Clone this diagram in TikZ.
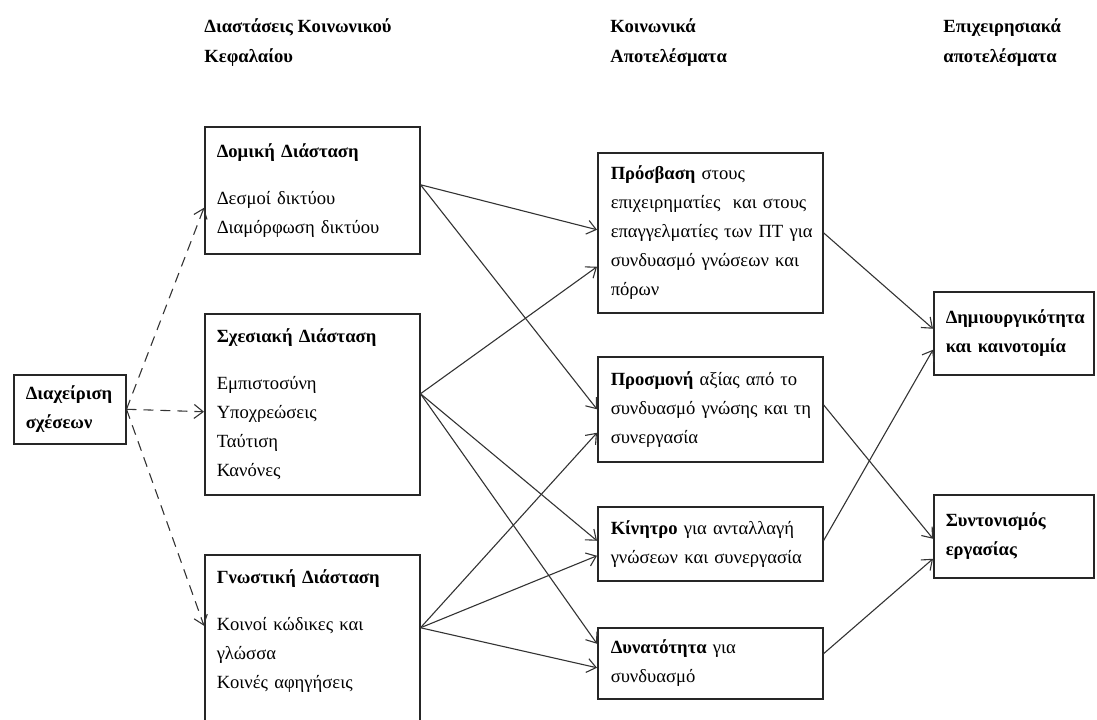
\documentclass[tikz,border=0pt]{standalone}
\usepackage{fontspec}
\setmainfont{Liberation Serif}
\usetikzlibrary{arrows.meta}

\tikzset{
  kouti/.style={draw=black!85, line width=0.75pt, anchor=north west, align=left,
    inner xsep=6pt, inner ysep=0pt, font=\fontsize{9.3}{14.5}\selectfont},
  titlos/.style={anchor=west, align=left, inner sep=0pt,
    font=\bfseries\fontsize{9.3}{15}\selectfont},
  velos/.style={-{Straight Barb[length=4.5pt,width=7pt]}, line width=0.55pt, black!80},
  diakek/.style={velos, dash pattern=on 5pt off 3.5pt},
}

\begin{document}
\begin{tikzpicture}[x=0.5pt,y=-0.5pt]
    \useasboundingbox (0,0) rectangle (1097,719);
    \node[titlos] (h1) at (204,43) {Διαστάσεις Κοινωνικού\\Κεφαλαίου};
    \node[titlos] (h2) at (610,43) {Κοινωνικά\\Αποτελέσματα};
    \node[titlos] (h3) at (943,43) {Επιχειρησιακά\\αποτελέσματα};

    \node[kouti, text width=44pt, minimum height=34.5pt] (dx) at (13,374)
        {\textbf{Διαχείριση}\\\textbf{σχέσεων}};

    \node[kouti, text width=95.5pt, minimum height=63.5pt] (dom) at (204,126)
        {\textbf{Δομική Διάσταση}\\[9pt]Δεσμοί δικτύου\\Διαμόρφωση δικτύου};
    \node[kouti, text width=95.5pt, minimum height=90.5pt] (sxe) at (204,313)
        {\textbf{Σχεσιακή Διάσταση}\\[9pt]Εμπιστοσύνη\\Υποχρεώσεις\\Ταύτιση\\Κανόνες};
    \node[kouti, text width=95.5pt, minimum height=88.5pt] (gno) at (204,554)
        {\textbf{Γνωστική Διάσταση}\\[9pt]Κοινοί κώδικες και\\γλώσσα\\Κοινές αφηγήσεις\\\mbox{}};

    \node[kouti, inner xsep=6.5pt, text width=99.5pt, minimum height=80pt] (pro) at (597,152)
        {\textbf{Πρόσβαση} στους\\\mbox{επιχειρηματίες\ \ και στους}\\\mbox{επαγγελματίες των ΠΤ για}\\\mbox{συνδυασμό γνώσεων και}\\πόρων};
    \node[kouti, inner xsep=6.5pt, text width=99.5pt, minimum height=52.5pt] (prm) at (597,356)
        {\mbox{\textbf{Προσμονή} αξίας από το}\\\mbox{συνδυασμό γνώσης και\ τη}\\συνεργασία};
    \node[kouti, inner xsep=6.5pt, text width=99.5pt, minimum height=37pt] (kin) at (597,506)
        {\mbox{\textbf{Κίνητρο} για ανταλλαγή}\\\mbox{γνώσεων και συνεργασία}};
    \node[kouti, inner xsep=6.5pt, text width=99.5pt, minimum height=35.5pt] (dyn) at (597,627)
        {\textbf{Δυνατότητα} για\\συνδυασμό};

    \node[kouti, text width=68pt, minimum height=41.5pt] (dim) at (933,291)
        {\textbf{Δημιουργικότητα}\\\textbf{και καινοτομία}};
    \node[kouti, text width=68pt, minimum height=41.5pt] (syn) at (933,494)
        {\textbf{Συντονισμός}\\\textbf{εργασίας}};

    \draw[diakek] (dx.east) -- ([yshift=-8.75pt]dom.west);
    \draw[diakek] (dx.east) -- ([yshift=-3.75pt]sxe.west);
    \draw[diakek] (dx.east) -- ([yshift=8.75pt]gno.west);

    \draw[velos] ([yshift=2.75pt]dom.east) -- ([yshift=1.5pt]pro.west);
    \draw[velos] ([yshift=2.75pt]dom.east) -- (prm.west);
    \draw[velos] ([yshift=5.25pt]sxe.east) -- ([yshift=-17pt]pro.west);
    \draw[velos] ([yshift=5.25pt]sxe.east) -- ([yshift=1.5pt]kin.west);
    \draw[velos] ([yshift=5.25pt]sxe.east) -- ([yshift=9.75pt]dyn.west);
    \draw[velos] ([yshift=7.75pt]gno.east) -- ([yshift=-11.75pt]prm.west);
    \draw[velos] ([yshift=7.75pt]gno.east) -- ([yshift=-6pt]kin.west);
    \draw[velos] ([yshift=7.75pt]gno.east) -- ([yshift=-2.25pt]dyn.west);

    \draw[velos] (pro.east) -- ([yshift=2.25pt]dim.west);
    \draw[velos] ([yshift=2.25pt]prm.east) -- ([yshift=-1.25pt]syn.west);
    \draw[velos] ([yshift=1.5pt]kin.east) -- ([yshift=-8.25pt]dim.west);
    \draw[velos] ([yshift=4.75pt]dyn.east) -- ([yshift=-11.25pt]syn.west);
\end{tikzpicture}
\end{document}
